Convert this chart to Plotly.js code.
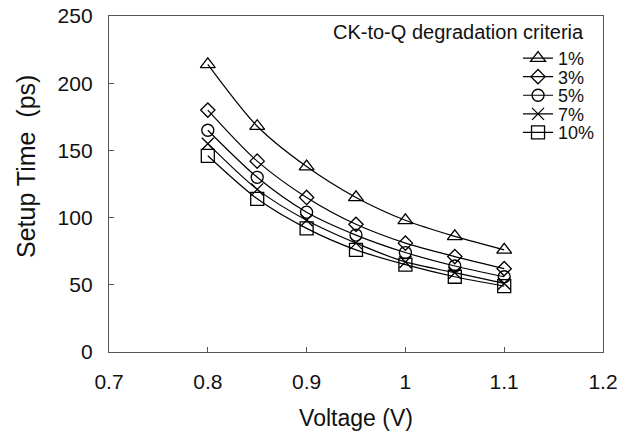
<!DOCTYPE html>
<html>
<head>
<meta charset="utf-8">
<script src="https://cdn.plot.ly/plotly-3.0.1.min.js"></script>
<style>html,body{margin:0;padding:0;background:#fff;}#chart{width:633px;height:431px;}</style>
</head>
<body>
<div id="chart"></div>
<script>
const voltage = [0.8, 0.85, 0.9, 0.95, 1.0, 1.05, 1.1];
const s1 = [214, 168, 138, 115, 98, 86, 76];
const s3 = [180, 142, 115, 95, 81, 71, 62];
const s5 = [165, 130, 104, 87, 74, 64, 56];
const s7 = [155, 121, 98, 81, 67, 59, 51];
const s10 = [146, 114, 92, 76, 65, 56, 49];
const seriesNames = ['1%', '3%', '5%', '7%', '10%'];
const seriesValues = [s1, s3, s5, s7, s10];
const symbols = ['triangle-up-open', 'diamond-open', 'circle-open', 'x-thin-open', 'square-open'];
const sizes = [13, 11, 12, 12, 13];

const traces = seriesValues.map((v, i) => ({
  x: voltage, y: v, name: seriesNames[i], type: 'scatter', mode: 'lines+markers',
  line: {color: '#000', width: 1.2, shape: 'spline', smoothing: 0.8},
  marker: {symbol: symbols[i], size: sizes[i], color: '#000', line: {color: '#000', width: 1.3}}
}));

const fam = 'Liberation Sans, Arial, sans-serif';
const tickFont = {family: fam, size: 21, color: '#111'};
const titleFont = {family: fam, size: 23, color: '#111'};
const layout = {
  width: 633, height: 431,
  margin: {l: 109, r: 30, t: 16, b: 79},
  paper_bgcolor: '#fff', plot_bgcolor: '#fff',
  font: tickFont,
  showlegend: true,
  legend: {x: 0.828, xanchor: 'left', y: 0.929, yanchor: 'top', bgcolor: 'rgba(0,0,0,0)',
    font: {family: fam, size: 18, color: '#111'}, tracegroupgap: 0},
  annotations: [
    {text: 'CK-to-Q degradation criteria', xref: 'paper', yref: 'paper', x: 0.966, y: 0.992,
      xanchor: 'right', yanchor: 'top', showarrow: false, font: {family: fam, size: 20, color: '#111'}},
    {text: 'Setup Time&nbsp;&nbsp;(ps)', xref: 'paper', yref: 'paper', x: -0.168, y: 0.5506,
      xanchor: 'center', yanchor: 'middle', textangle: -90, showarrow: false, font: {family: fam, size: 25, color: '#111'}}
  ],
  xaxis: {range: [0.7, 1.2], dtick: 0.1, tick0: 0.7, ticks: 'inside', ticklen: 5, tickcolor: '#555',
    showgrid: false, zeroline: false, showline: true, linecolor: '#555', linewidth: 1.2, mirror: true,
    tickfont: tickFont, ticklabelstandoff: 11, title: {text: 'Voltage (V)', font: titleFont, standoff: 19}},
  yaxis: {range: [0, 250], dtick: 50, ticks: 'inside', ticklen: 5, tickcolor: '#555',
    showgrid: false, zeroline: false, showline: true, linecolor: '#555', linewidth: 1.2, mirror: true,
    tickfont: tickFont, ticklabelstandoff: 11}
};
Plotly.newPlot('chart', traces, layout, {displayModeBar: false, staticPlot: true}).then(() => {
  const items = document.querySelectorAll('.legend .traces');
  let y0 = null;
  items.forEach((g, i) => {
    const m = /translate\(([-\d.]+),\s*([-\d.]+)\)/.exec(g.getAttribute('transform') || '');
    if (!m) return;
    if (i === 0) { y0 = parseFloat(m[2]); }
    g.setAttribute('transform', 'translate(' + parseFloat(m[1]) + ',' + (y0 + i * 18.6) + ')');
  });
});
</script>
</body>
</html>
